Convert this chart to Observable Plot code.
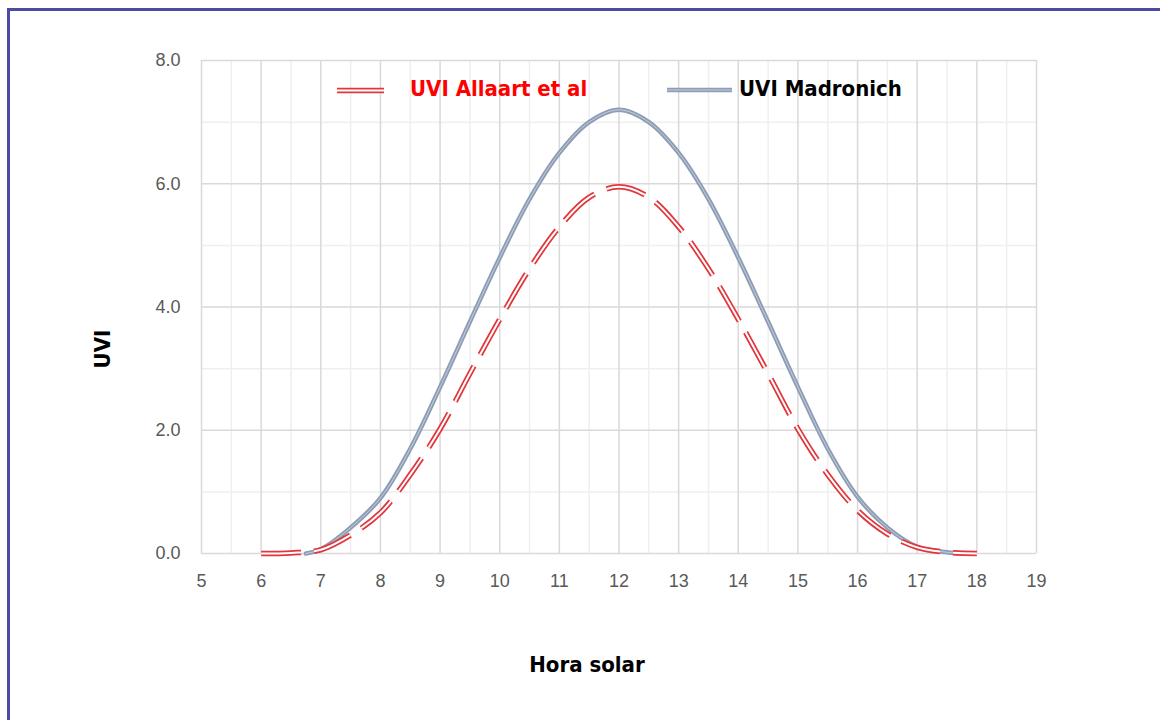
<!DOCTYPE html>
<html>
<head>
<meta charset="utf-8">
<script src="https://cdn.jsdelivr.net/npm/d3@7"></script>
<script src="https://cdn.jsdelivr.net/npm/@observablehq/plot@0.6"></script>
<style>
  html, body { margin: 0; padding: 0; background: #fff; }
  #wrap { position: relative; width: 1160px; height: 720px; overflow: hidden; }
  #border { position: absolute; left: 7px; top: 8px; width: 1300px; height: 900px;
            border-left: 3px solid #4b4ba3; border-top: 3px solid #4b4ba3; box-sizing: border-box; }
  #chart { position: absolute; left: 0; top: 0; }
  #legend { position: absolute; left: 0; top: 0; width: 1160px; height: 120px; pointer-events: none;
            font-family: "DejaVu Sans Condensed", "DejaVu Sans", sans-serif; font-weight: bold; font-size: 22px; }
  .lg-text { position: absolute; top: 76px; line-height: 26px; white-space: nowrap; }
</style>
</head>
<body>
<div id="wrap">
  <div id="border"></div>
  <div id="chart"></div>
  <div id="legend"></div>
</div>
<script>
// ---- Data ----
const seriesNames = ["UVI Allaart et al", "UVI Madronich"];

const horaAllaart = [6, 6.5, 7, 7.5, 8, 8.5, 9, 9.5, 10, 10.5, 11, 11.5, 12, 12.5, 13, 13.5, 14, 14.5, 15, 15.5, 16, 16.5, 17, 17.5, 18];
const uviAllaart  = [0, 0.01, 0.06, 0.3, 0.66, 1.28, 2.02, 2.92, 3.8, 4.62, 5.3, 5.78, 5.95, 5.78, 5.3, 4.62, 3.8, 2.92, 2.02, 1.28, 0.7, 0.32, 0.1, 0.02, 0];

const horaMadronich = [6.75, 7, 7.5, 8, 8.5, 9, 9.5, 10, 10.5, 11, 11.5, 12, 12.5, 13, 13.5, 14, 14.5, 15, 15.5, 16, 16.5, 17, 17.5, 17.8];
const uviMadronich  = [0, 0.07, 0.42, 0.9, 1.7, 2.7, 3.76, 4.8, 5.75, 6.5, 7.0, 7.2, 7.0, 6.5, 5.75, 4.8, 3.76, 2.7, 1.7, 0.92, 0.42, 0.11, 0.02, 0];

const xTicks = [5, 6, 7, 8, 9, 10, 11, 12, 13, 14, 15, 16, 17, 18, 19];
const xMinorTicks = [5.5, 6.5, 7.5, 8.5, 9.5, 10.5, 11.5, 12.5, 13.5, 14.5, 15.5, 16.5, 17.5, 18.5];
const yTicks = [0, 2, 4, 6, 8];
const yMinorTicks = [1, 3, 5, 7];

const xTitle = "Hora solar";
const yTitle = "UVI";

// ---- Build tables ----
const allaart = horaAllaart.map((h, i) => ({hora: h, uvi: uviAllaart[i]}));
const madronich = horaMadronich.map((h, i) => ({hora: h, uvi: uviMadronich[i]}));

const RED = "#e0363c";
const BLUE = "#8d9db5";
const dash = "40,13";
const titleFont = {fontFamily: "DejaVu Sans Condensed, DejaVu Sans, sans-serif", fontWeight: "bold", fontSize: 22, fill: "#000"};

const chart = Plot.plot({
  width: 1160,
  height: 720,
  marginLeft: 201,
  marginRight: 124,
  marginTop: 60,
  marginBottom: 167,
  style: {fontFamily: "Liberation Sans, Arial, sans-serif", fontSize: "18px", color: "#595959", background: "transparent", overflow: "visible"},
  x: {domain: [5, 19]},
  y: {domain: [0, 8]},
  marks: [
    Plot.ruleX(xMinorTicks, {stroke: "#efefef", strokeWidth: 1.5}),
    Plot.ruleY(yMinorTicks, {stroke: "#efefef", strokeWidth: 1.5}),
    Plot.ruleX(xTicks, {stroke: "#d9d9d9", strokeWidth: 1.5}),
    Plot.ruleY(yTicks, {stroke: "#d9d9d9", strokeWidth: 1.5}),
    Plot.axisX({ticks: xTicks, tickSize: 0, tickPadding: 21, tickFormat: d => String(d), label: null, fill: "#595959"}),
    Plot.axisY({ticks: yTicks, tickSize: 0, tickPadding: 21, tickFormat: d => d.toFixed(1), label: null, fill: "#595959"}),
    Plot.line(madronich, {x: "hora", y: "uvi", stroke: BLUE, strokeWidth: 4.5, curve: "catmull-rom"}),
    Plot.line(madronich, {x: "hora", y: "uvi", stroke: "#c4cedb", strokeWidth: 1, curve: "catmull-rom"}),
    Plot.line(allaart, {x: "hora", y: "uvi", stroke: RED, strokeWidth: 5.5, strokeDasharray: dash, curve: "catmull-rom", strokeLinecap: "butt"}),
    Plot.line(allaart, {x: "hora", y: "uvi", stroke: "#fff", strokeWidth: 2, strokeDasharray: dash, curve: "catmull-rom", strokeLinecap: "butt"}),
    Plot.text([yTitle], {text: d => d, frameAnchor: "left", textAnchor: "middle", lineAnchor: "middle", dx: -99, dy: 42, rotate: -90, ...titleFont}),
    Plot.text([xTitle], {text: d => d, frameAnchor: "bottom", textAnchor: "middle", lineAnchor: "middle", dx: -32, dy: 111, ...titleFont})
  ]
});
document.getElementById("chart").appendChild(chart);

// ---- Legend (inside plot area, top) ----
const legend = document.getElementById("legend");
legend.innerHTML = `
  <svg width="1160" height="120" style="position:absolute;left:0;top:0">
    <line x1="337" x2="384" y1="90.5" y2="90.5" stroke="${RED}" stroke-width="5.5"/>
    <line x1="337" x2="384" y1="90.5" y2="90.5" stroke="#fff" stroke-width="2"/>
    <line x1="667" x2="732" y1="90" y2="90" stroke="${BLUE}" stroke-width="4.5"/>
    <line x1="667" x2="732" y1="90" y2="90" stroke="#c4cedb" stroke-width="1"/>
  </svg>
  <div class="lg-text" style="left:410px;color:#ff0000">${seriesNames[0]}</div>
  <div class="lg-text" style="left:739px;color:#000">${seriesNames[1]}</div>
`;
</script>
</body>
</html>
